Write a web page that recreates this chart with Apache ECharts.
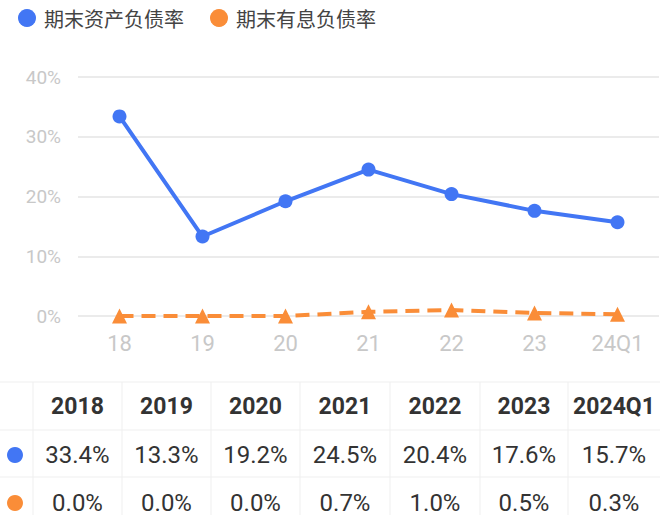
<!DOCTYPE html>
<html>
<head>
<meta charset="utf-8">
<script src="https://cdn.jsdelivr.net/npm/echarts@6/dist/echarts.min.js"></script>
<style>
html,body{margin:0;padding:0;background:#fff;}
#chart{width:660px;height:515px;}
</style>
</head>
<body>
<div id="chart"></div>
<script>
var categories = ['18', '19', '20', '21', '22', '23', '24Q1'];
var tableHeaders = ['2018', '2019', '2020', '2021', '2022', '2023', '2024Q1'];
var seriesNames = ['期末资产负债率', '期末有息负债率'];
var assetDebtRatio = [33.4, 13.3, 19.2, 24.5, 20.4, 17.6, 15.7];
var interestDebtRatio = [0.0, 0.0, 0.0, 0.7, 1.0, 0.5, 0.3];
var yTicks = [0, 10, 20, 30, 40];

var BLUE = '#4276F4';
var ORANGE = '#FA8D38';
var NUM_FONT = 'Roboto, "Noto Sans", sans-serif';
var CJK_FONT = '"Noto Sans CJK SC", "Noto Sans", sans-serif';

var chart = echarts.init(document.getElementById('chart'), null, {renderer: 'svg'});

// table graphics
var colEdges = [0, 33, 122, 211, 300, 390, 480, 568, 660];
var rowEdges = [382, 430, 477, 525];
var lineColor = '#efefef';
var graphics = [];
rowEdges.forEach(function (y) {
  graphics.push({type: 'line', shape: {x1: 0, y1: y, x2: 660, y2: y}, style: {stroke: lineColor, lineWidth: 1}, silent: true});
});
colEdges.slice(1, -1).forEach(function (x) {
  graphics.push({type: 'line', shape: {x1: x, y1: rowEdges[0], x2: x, y2: 515}, style: {stroke: lineColor, lineWidth: 1}, silent: true});
});
var rowCenters = [406, 455, 503];
var rows = [assetDebtRatio, interestDebtRatio];
var colors = [BLUE, ORANGE];
tableHeaders.forEach(function (h, i) {
  var cx = (colEdges[i + 1] + colEdges[i + 2]) / 2;
  graphics.push({type: 'text', x: cx, y: rowCenters[0], style: {text: h, fill: '#333', font: 'bold 23px ' + NUM_FONT, textAlign: 'center', textVerticalAlign: 'middle'}, silent: true});
  rows.forEach(function (arr, r) {
    graphics.push({type: 'text', x: cx, y: rowCenters[r + 1], style: {text: arr[i].toFixed(1) + '%', fill: '#333', font: '24px ' + NUM_FONT, textAlign: 'center', textVerticalAlign: 'middle'}, silent: true});
  });
});
rows.forEach(function (arr, r) {
  graphics.push({type: 'circle', shape: {cx: 15, cy: rowCenters[r + 1], r: 8}, style: {fill: colors[r]}, silent: true});
});

var option = {
  backgroundColor: '#fff',
  animation: false,
  legend: {
    left: 13,
    top: 3,
    itemWidth: 24,
    itemHeight: 18,
    itemGap: 26,
    icon: 'circle',
    textStyle: {fontSize: 20, color: '#444', fontFamily: CJK_FONT},
    data: seriesNames
  },
  grid: {left: 78, right: 1, top: 77, bottom: 199},
  xAxis: {
    type: 'category',
    data: categories,
    boundaryGap: true,
    axisLine: {show: false},
    axisTick: {show: false},
    axisLabel: {color: '#c8c8c8', fontSize: 22, margin: 16, fontFamily: NUM_FONT}
  },
  yAxis: {
    type: 'value',
    min: yTicks[0],
    max: yTicks[yTicks.length - 1],
    interval: 10,
    axisLine: {show: false},
    axisTick: {show: false},
    axisLabel: {color: '#c8c8c8', fontSize: 19, margin: 17, fontFamily: NUM_FONT, formatter: '{value}%'},
    splitLine: {lineStyle: {color: '#ebebeb', width: 2}}
  },
  series: [
    {
      name: seriesNames[0],
      type: 'line',
      data: assetDebtRatio,
      symbol: 'circle',
      symbolSize: 14,
      lineStyle: {color: BLUE, width: 4},
      itemStyle: {color: BLUE}
    },
    {
      name: seriesNames[1],
      type: 'line',
      data: interestDebtRatio,
      symbol: 'triangle',
      symbolSize: 15,
      lineStyle: {color: ORANGE, width: 4, type: [14, 8]},
      itemStyle: {color: ORANGE}
    }
  ],
  graphic: graphics
};
chart.setOption(option);
</script>
</body>
</html>
